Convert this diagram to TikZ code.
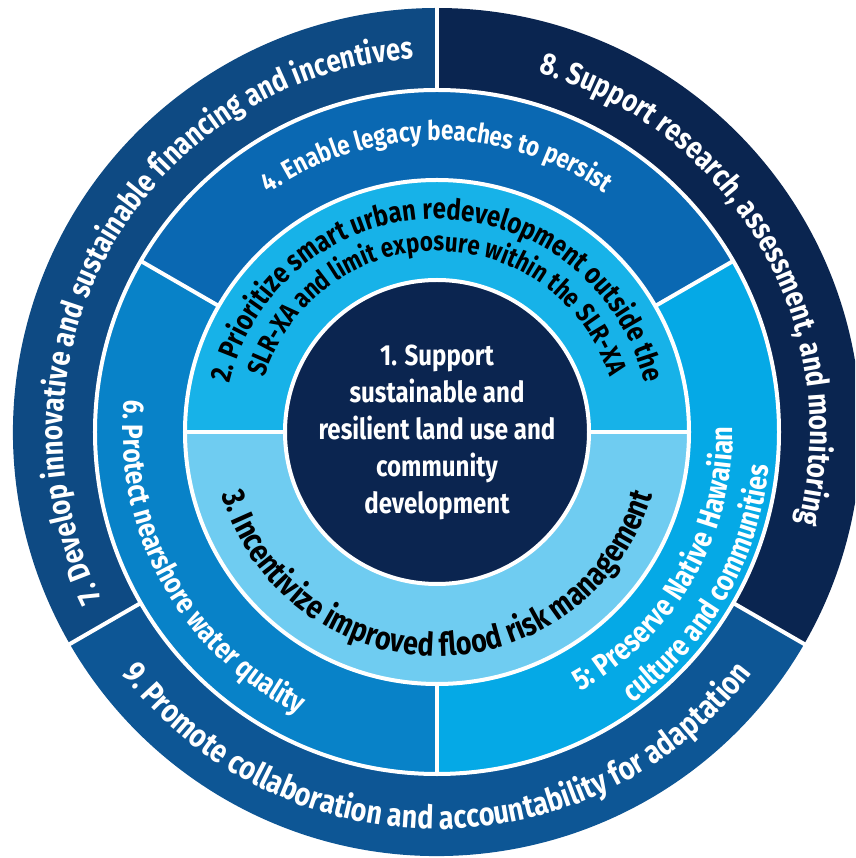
\documentclass[tikz,border=0pt]{standalone}
\usepackage{fontspec}
\setmainfont{Fira Sans}[FakeStretch=0.83]
\usetikzlibrary{decorations.text}
\definecolor{cone}{HTML}{0B2550}
\definecolor{ctwo}{HTML}{17B2E8}
\definecolor{cthree}{HTML}{6FCCF1}
\definecolor{cfour}{HTML}{0A68B2}
\definecolor{cfive}{HTML}{05A9E6}
\definecolor{csix}{HTML}{0882C8}
\definecolor{cseven}{HTML}{0E4A83}
\definecolor{ceight}{HTML}{0A2550}
\definecolor{cnine}{HTML}{0D5695}
\newcommand\fouter{\fontsize{31}{36}\selectfont\bfseries}
\tikzset{
  sepline/.style={draw=white,line width=4pt},
}
\begin{document}
\begin{tikzpicture}
\useasboundingbox (-437pt,-426pt) rectangle (418pt,432pt);
\clip (-437pt,-426pt) rectangle (418pt,432pt);
\fill[white] (-437pt,-426pt) rectangle (418pt,432pt);
% outer ring
\fill[cseven] (90:342pt) arc[start angle=90,end angle=210,radius=342pt] -- (210:424pt) arc[start angle=210,end angle=90,radius=424pt] -- cycle;
\fill[cnine] (210:342pt) arc[start angle=210,end angle=330,radius=342pt] -- (330:424pt) arc[start angle=330,end angle=210,radius=424pt] -- cycle;
\fill[ceight] (-30:342pt) arc[start angle=-30,end angle=90,radius=342pt] -- (90:424pt) arc[start angle=90,end angle=-30,radius=424pt] -- cycle;
% middle ring
\fill[cfour] (30:252pt) arc[start angle=30,end angle=150,radius=252pt] -- (150:342pt) arc[start angle=150,end angle=30,radius=342pt] -- cycle;
\fill[csix] (150:252pt) arc[start angle=150,end angle=270,radius=252pt] -- (270:342pt) arc[start angle=270,end angle=150,radius=342pt] -- cycle;
\fill[cfive] (270:252pt) arc[start angle=270,end angle=390,radius=252pt] -- (30:342pt) arc[start angle=390,end angle=270,radius=342pt] -- cycle;
% inner ring
\fill[ctwo] (0:152pt) arc[start angle=0,end angle=180,radius=152pt] -- (180:252pt) arc[start angle=180,end angle=0,radius=252pt] -- cycle;
\fill[cthree] (180:152pt) arc[start angle=180,end angle=360,radius=152pt] -- (0:252pt) arc[start angle=360,end angle=180,radius=252pt] -- cycle;
\fill[cone] (0,0) circle[radius=152pt];
% separators
\draw[sepline] (0,0) circle[radius=152pt];
\draw[sepline] (0,0) circle[radius=252pt];
\draw[sepline] (0,0) circle[radius=342pt];
\draw[sepline] (0:152pt) -- (0:252pt);
\draw[sepline] (180:152pt) -- (180:252pt);
\draw[sepline] (30:252pt) -- (30:342pt);
\draw[sepline] (150:252pt) -- (150:342pt);
\draw[sepline] (270:252pt) -- (270:342pt);
\draw[sepline] (90:342pt) -- (90:430pt);
\draw[sepline] (210:342pt) -- (210:430pt);
\draw[sepline] (330:342pt) -- (330:430pt);
% outer texts
\path[decorate,decoration={text along path,text align=center,text color=white,
  text={|\fouter|7. Develop innovative and sustainable financing and incentives}}]
  (235:374pt) arc[start angle=235,end angle=65,radius=374pt];
\path[decorate,decoration={text along path,text align=center,text color=white,
  text={|\fouter|8. Support research, assessment, and monitoring}}]
  (115:373pt) arc[start angle=115,end angle=-55,radius=373pt];
\path[decorate,decoration={text along path,text align=center,text color=white,
  text={|\fontsize{32.5}{36}\selectfont\bfseries|9. Promote collaboration and accountability for adaptation}}]
  (180:397pt) arc[start angle=180,end angle=360,radius=397pt];
% middle texts
\path[decorate,decoration={text along path,text align=center,text color=white,
  text={|\fontsize{27}{34}\selectfont\bfseries|4. Enable legacy beaches to persist}}]
  (170:292pt) arc[start angle=170,end angle=10,radius=292pt];
\path[decorate,decoration={text along path,text align=center,text color=white,
  text={|\fontsize{29.5}{34}\selectfont\bfseries|6. Protect nearshore water quality}}]
  (129:314pt) arc[start angle=129,end angle=289,radius=314pt];
\path[decorate,decoration={text along path,text align=center,text color=white,
  text={|\fontsize{30.5}{34}\selectfont\bfseries|5: Preserve Native Hawaiian}}]
  (-110:296pt) arc[start angle=-110,end angle=50,radius=296pt];
\path[decorate,decoration={text along path,text align=center,text color=white,
  text={|\fontsize{30}{34}\selectfont\bfseries|culture and communities}}]
  (-110:334pt) arc[start angle=-110,end angle=50,radius=334pt];
% inner texts
\path[decorate,decoration={text along path,text align=center,text color=black,
  text={|\fontsize{29}{34}\selectfont\bfseries|2. Prioritize smart urban redevelopment outside the}}]
  (190:213pt) arc[start angle=190,end angle=-10,radius=213pt];
\path[decorate,decoration={text along path,text align=center,text color=black,
  text={|\fontsize{27}{34}\selectfont\bfseries|SLR-XA and limit exposure within the SLR-XA}}]
  (190:181pt) arc[start angle=190,end angle=-10,radius=181pt];
\path[decorate,decoration={text along path,text align=center,text color=black,
  text={|\fontsize{32.5}{36}\selectfont\bfseries|3. Incentivize improved flood risk management}}]
  (150:224pt) arc[start angle=150,end angle=390,radius=224pt];
% center
\node[text=white,align=center,font=\fontsize{29}{37}\selectfont\bfseries] (core) at (0,0) {1. Support\\sustainable and\\resilient land use and\\community\\development};
\end{tikzpicture}
\end{document}
